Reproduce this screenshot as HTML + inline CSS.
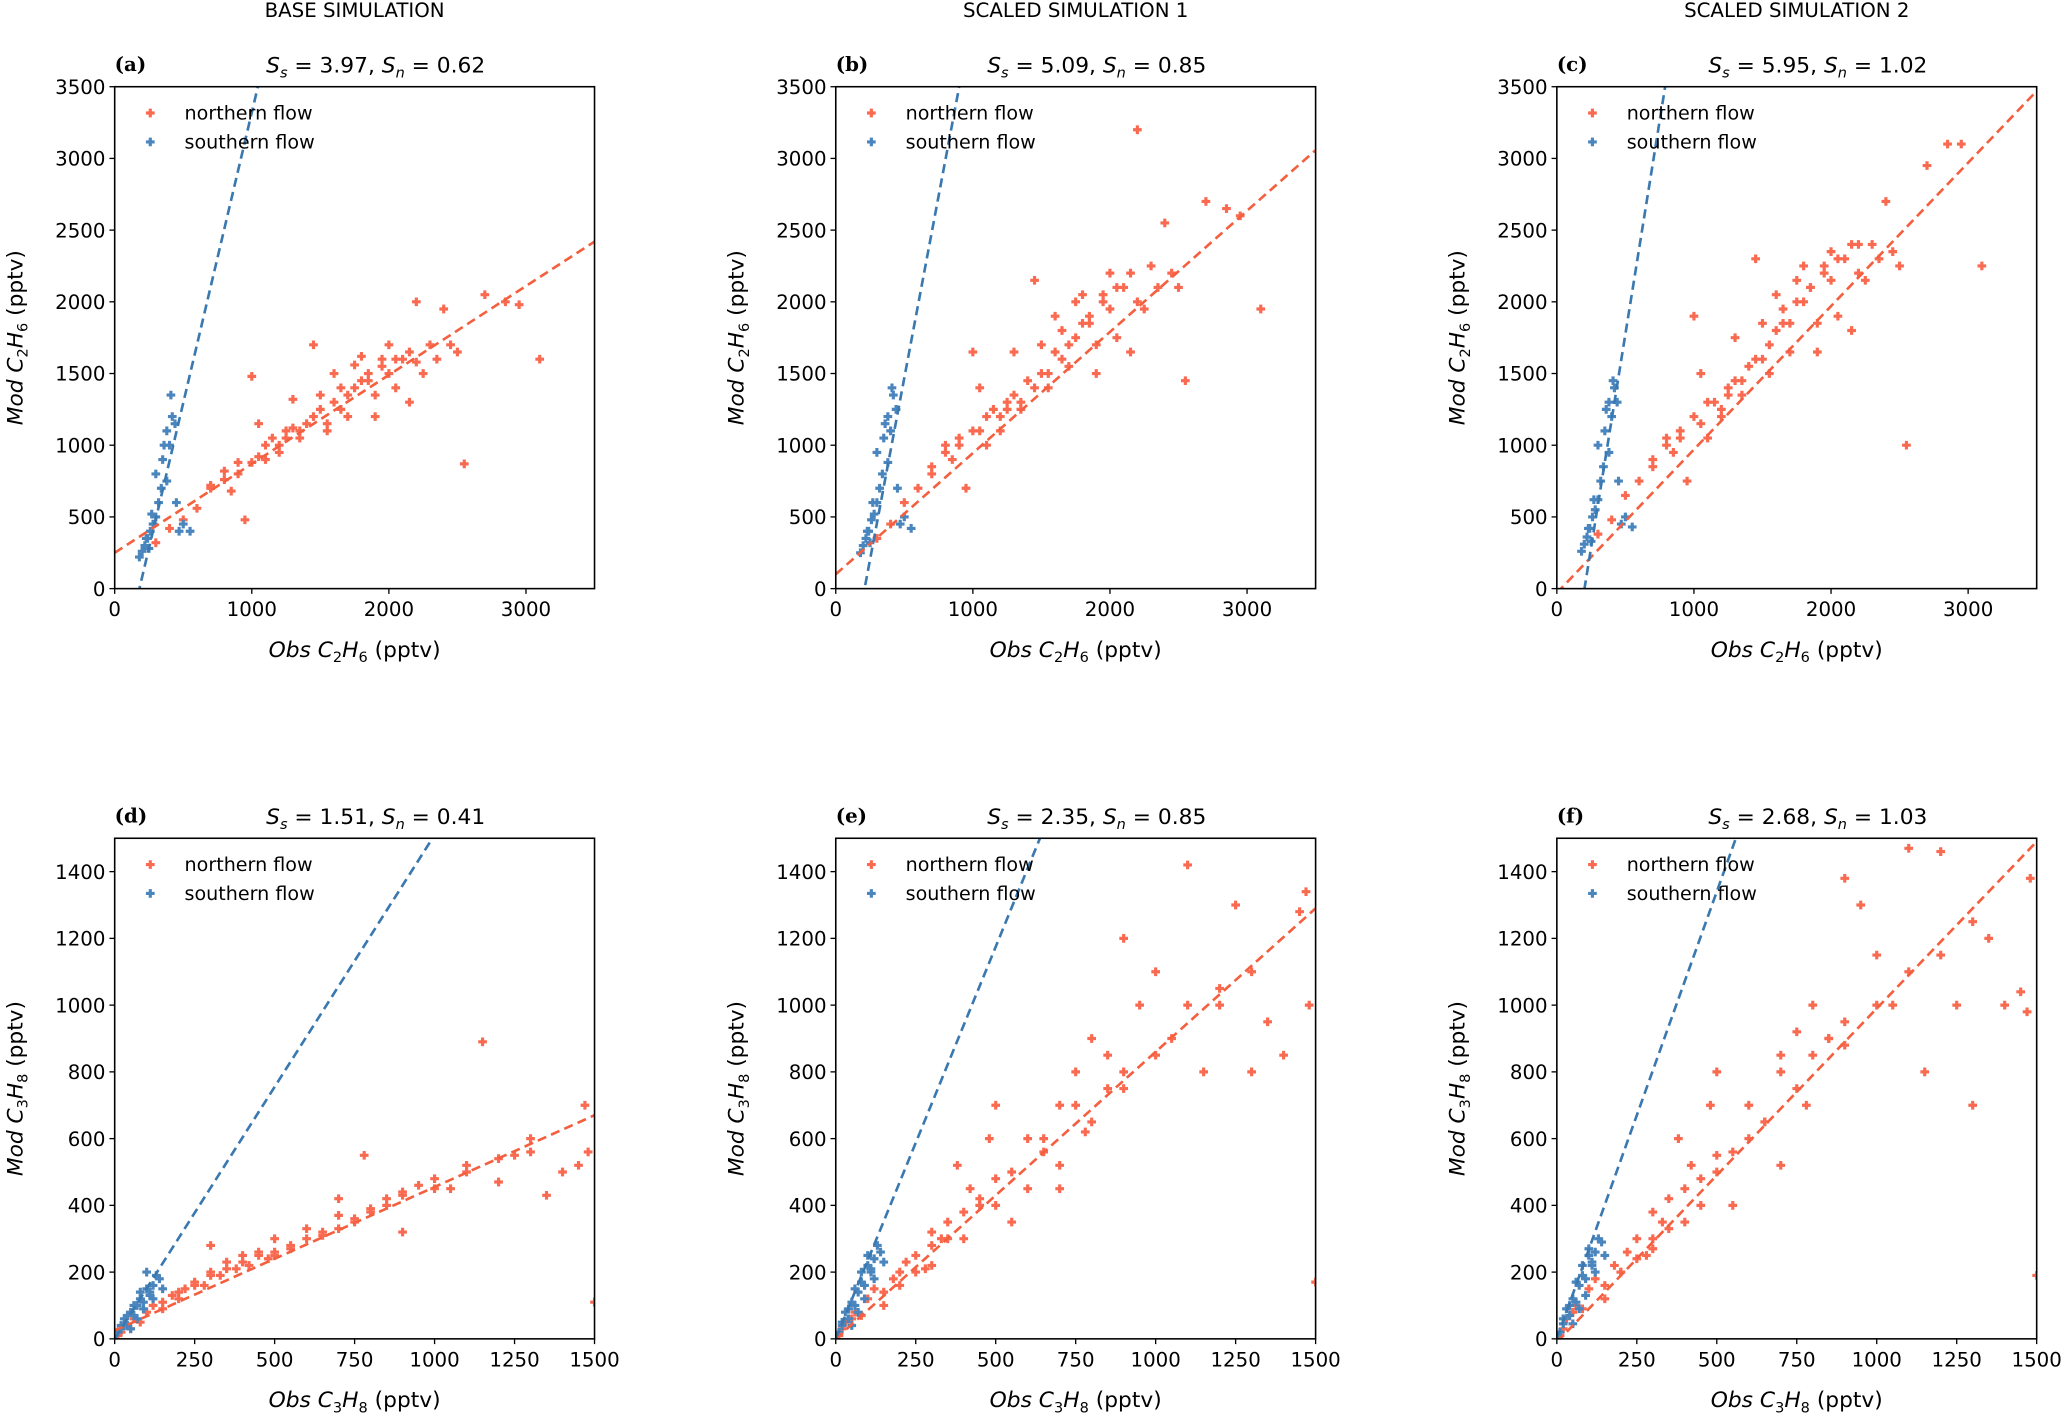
<!DOCTYPE html>
<html><head><meta charset="utf-8"><style>
html,body{margin:0;padding:0;background:#fff;}
svg{display:block;font-family:"DejaVu Sans","Liberation Sans",sans-serif;}
</style></head><body>
<svg id="fig" width="2067" height="1419" viewBox="0 0 1568 1080" preserveAspectRatio="none" xmlns="http://www.w3.org/2000/svg"></svg>
<script>
// ---- data ----
const topNorthObs = [300,400,500,600,700,800,850,900,950,1000,1050,1100,1150,1200,1250,1300,1350,1400,1450,1500,1550,1600,1650,1700,1750,1800,1850,1900,1950,2000,2050,2100,2150,2200,2300,2400,2500,2550,2700,2850,2950,3100,1000,1300,1600,1900,2200,1200,1500,1800,1100,1250,1350,1450,1550,1650,1750,1850,1950,2050,2150,2250,2350,2450,700,800,900,1050,1700,2000];
const topNorthModA = [320,420,480,560,700,760,680,800,480,880,1150,900,1050,1000,1100,1120,1050,1150,1700,1250,1100,1300,1400,1350,1560,1450,1500,1350,1600,1500,1400,1600,1300,1580,1700,1950,1650,870,2050,2000,1980,1600,1480,1320,1500,1200,2000,950,1350,1620,1000,1050,1100,1200,1150,1250,1400,1450,1550,1600,1650,1500,1600,1700,720,820,880,920,1200,1700];
const topNorthModB = [350,450,600,700,850,1000,900,1050,700,1100,1400,1000,1250,1200,1300,1350,1250,1450,2150,1500,1400,1650,1800,1700,2000,1850,1900,1700,2050,1950,1750,2100,1650,2000,2250,2550,2100,1450,2700,2650,2600,1950,1650,1650,1900,1500,3200,1100,1700,2050,1200,1250,1300,1400,1500,1600,1750,1850,2000,2100,2200,1950,2100,2200,800,950,1000,1100,1550,2200];
const topNorthModC = [380,480,650,750,900,1050,950,1100,750,1200,1500,1050,1300,1250,1400,1450,1350,1550,2300,1600,1500,1800,1950,1850,2150,2000,2100,1850,2250,2150,1900,2300,1800,2200,2400,2700,2250,1000,2950,3100,3100,2250,1900,1750,2050,1650,2400,1200,1850,2250,1300,1350,1450,1600,1700,1850,2000,2100,2200,2300,2400,2150,2300,2350,850,1000,1050,1150,1650,2350];
const topSouthObs = [180,200,220,240,250,260,280,300,300,320,340,350,360,380,380,400,410,420,440,450,470,500,550,230,270];
const topSouthModA = [220,260,300,350,280,400,450,500,800,600,700,900,1000,750,1100,1000,1350,1200,1150,600,400,450,400,350,520];
const topSouthModB = [250,300,350,400,320,480,520,600,950,700,800,1050,1150,880,1200,1100,1400,1350,1250,700,450,500,420,400,600];
const topSouthModC = [260,310,360,420,330,500,550,620,1000,750,850,1100,1250,950,1300,1200,1450,1400,1300,750,450,500,430,420,620];
const botNorthObs = [10,20,30,50,60,80,100,120,150,180,200,220,250,280,300,330,350,380,400,420,450,480,500,550,600,650,700,750,780,800,850,900,950,1000,1050,1100,1150,1200,1250,1300,1350,1400,1450,1470,1480,1500,300,500,700,900,150,200,250,300,350,400,450,500,550,600,650,700,750,800,850,900,1000,1100,1200,1300];
const botNorthModD = [10,20,40,30,60,50,80,100,90,130,120,150,170,160,200,190,230,210,250,220,260,240,300,270,330,310,370,350,550,390,420,430,460,480,450,520,890,470,550,600,430,500,520,700,560,110,280,250,420,320,110,140,160,190,210,230,250,260,280,300,320,330,360,380,400,440,450,500,540,560];
const botNorthModE = [10,30,50,60,80,70,120,150,100,180,200,230,250,210,320,300,350,520,300,450,400,600,480,350,600,560,700,800,620,900,850,750,1000,1100,900,1420,800,1050,1300,800,950,850,1280,1340,1000,170,220,700,450,1200,140,160,200,280,300,380,420,400,500,450,600,520,700,650,750,800,850,1000,1000,1100];
const botNorthModF = [10,30,60,80,100,90,150,180,120,220,200,260,300,250,380,350,420,600,350,520,480,700,550,400,700,650,850,920,700,1000,900,880,1300,1150,1000,1470,800,1460,1000,700,1200,1000,1040,980,1380,190,270,800,520,1380,160,200,240,300,330,450,400,500,560,600,650,800,750,850,900,950,1000,1100,1150,1250];
const botSouthObs = [10,20,30,40,50,60,70,80,90,100,110,120,130,40,60,80,100,120,140,150,20,50,90,70,110];
const botSouthModD = [20,30,60,40,80,70,100,120,110,150,130,160,190,70,100,140,200,120,180,150,40,30,90,60,140];
const botSouthModE = [20,40,80,60,110,100,140,170,160,220,200,240,280,90,150,200,250,180,260,230,50,40,120,80,210];
const botSouthModF = [20,45,90,70,120,110,160,190,180,250,220,260,300,100,170,220,270,200,290,250,60,45,130,90,230];
// regression [intercept, slope]
const fitNorth = [[250,0.62],[100,0.845],[-30,1.0],[25,0.43],[0,0.86],[-10,1.0]];
const fitSouth = [[-730,4.05],[-1065,5.07],[-1200,5.95],[0,1.51],[0,2.35],[0,2.68]];
const labels = ['(a)','(b)','(c)','(d)','(e)','(f)'];
const sS = ['3.97','5.09','5.95','1.51','2.35','2.68'];
const sN = ['0.62','0.85','1.02','0.41','0.85','1.03'];
const colTitles = ['BASE SIMULATION','SCALED SIMULATION 1','SCALED SIMULATION 2'];
const topTicks = [0,500,1000,1500,2000,2500,3000,3500];
const topXTicks = [0,1000,2000,3000];
const botTicks = [0,200,400,600,800,1000,1200,1400];
const botXTicks = [0,250,500,750,1000,1250,1500];

const NS='http://www.w3.org/2000/svg';
const svg=document.getElementById('fig');
function el(t,a,p){const e=document.createElementNS(NS,t);for(const k in a)e.setAttribute(k,a[k]);(p||svg).appendChild(e);return e;}
const lefts=[87,634,1181], W=364;
const rows=[{top:66,bot:448,max:3500,ticks:topTicks,xt:topXTicks,sub1:'2',sub2:'6',
  n:[topNorthModA,topNorthModB,topNorthModC],s:[topSouthModA,topSouthModB,topSouthModC],nx:topNorthObs,sx:topSouthObs},
 {top:638,bot:1019,max:1500,ticks:botTicks,xt:botXTicks,sub1:'3',sub2:'8',
  n:[botNorthModD,botNorthModE,botNorthModF],s:[botSouthModD,botSouthModE,botSouthModF],nx:botNorthObs,sx:botSouthObs}];
const RED='#fa6a50', BLUE='#4a86bd';
function plus(g,cx,cy,c){
  return el('path',{d:`M${cx-1.2},${cy-3.3}h2.4v2.1h2.1v2.4h-2.1v2.1h-2.4v-2.1h-2.1v-2.4h2.1z`,fill:c},g);
}
rows.forEach((r,ri)=>{
  lefts.forEach((L,ci)=>{
    const idx=ri*3+ci;
    const X=v=>L+v/r.max*W, Y=v=>r.bot-v/r.max*(r.bot-r.top);
    const g=el('g',{});
    
    
    if(ri===0){const t=el('text',{x:L+W/2,y:13,'text-anchor':'middle','font-size':15},g);t.textContent=colTitles[ci];
      }
    const cp='cp'+idx;
    const d=el('defs',{},g);const c=el('clipPath',{id:cp},d);el('rect',{x:L,y:r.top,width:W,height:r.bot-r.top},c);
    const pg=el('g',{'clip-path':`url(#${cp})`},g);
    r.nx.forEach((x,i)=>{const m=plus(pg,X(x),Y(r.n[ci][i]),RED);
      });
    r.sx.forEach((x,i)=>{const m=plus(pg,X(x),Y(r.s[ci][i]),BLUE);
      });
    const fn=fitNorth[idx], fs=fitSouth[idx];
    const l1=el('line',{x1:X(0),y1:Y(fn[0]),x2:X(r.max),y2:Y(fn[0]+fn[1]*r.max),stroke:'#f4603f','stroke-width':2,'stroke-dasharray':'7,4'},pg);
    
    const l2=el('line',{x1:X(0),y1:Y(fs[0]),x2:X(r.max),y2:Y(fs[0]+fs[1]*r.max),stroke:'#3a78b0','stroke-width':2,'stroke-dasharray':'7,4'},pg);
    
    const fr=el('rect',{x:L,y:r.top,width:W,height:r.bot-r.top,fill:'none',stroke:'#000','stroke-width':1.2},g);
    
    r.ticks.forEach(t=>{el('line',{x1:L-4,x2:L,y1:Y(t),y2:Y(t),stroke:'#000'},g);
      const tx=el('text',{x:L-7,y:Y(t)+5.5,'text-anchor':'end','font-size':15},g);tx.textContent=t;
      });
    r.xt.forEach(t=>{el('line',{x1:X(t),x2:X(t),y1:r.bot,y2:r.bot+4,stroke:'#000'},g);
      const tx=el('text',{x:X(t),y:r.bot+21,'text-anchor':'middle','font-size':15},g);tx.textContent=t;
      });
    const xl=el('text',{x:L+W/2,y:r.bot+52,'text-anchor':'middle','font-size':16.5},g);
    xl.innerHTML=`<tspan font-style="italic">Obs C</tspan><tspan font-size="11" dy="4">${r.sub1}</tspan><tspan font-style="italic" dy="-4">H</tspan><tspan font-size="11" dy="4">${r.sub2}</tspan><tspan dy="-4"> (pptv)</tspan>`;
    
    const cy=(r.top+r.bot)/2, cx=L-70;
    const yl=el('text',{x:cx,y:cy,'text-anchor':'middle','font-size':16.5,transform:`rotate(-90 ${cx} ${cy})`},g);
    yl.innerHTML=`<tspan font-style="italic">Mod C</tspan><tspan font-size="11" dy="4">${r.sub1}</tspan><tspan font-style="italic" dy="-4">H</tspan><tspan font-size="11" dy="4">${r.sub2}</tspan><tspan dy="-4"> (pptv)</tspan>`;
    
    const pl=el('text',{x:L,y:r.top-12,'font-size':15,'font-weight':'bold','font-family':'"DejaVu Serif","Liberation Serif",serif'},g);pl.textContent=labels[idx];
    
    const st=el('text',{x:L+198,y:r.top-11,'text-anchor':'middle','font-size':16.5},g);
    st.innerHTML=`<tspan font-style="italic">S</tspan><tspan font-style="italic" font-size="11" dy="4">s</tspan><tspan dy="-4"> = ${sS[idx]}, </tspan><tspan font-style="italic">S</tspan><tspan font-style="italic" font-size="11" dy="4">n</tspan><tspan dy="-4"> = ${sN[idx]}</tspan>`;
    
    [['northern flow',RED,20],['southern flow',BLUE,42]].forEach(([t,c,dy])=>{
      const lg=el('g',{},g);
      plus(lg,L+27,r.top+dy,c);
      const tt=el('text',{x:L+53,y:r.top+dy+5,'font-size':14.5},lg);tt.textContent=t;
    });
  });
});
</script>
</body></html>
